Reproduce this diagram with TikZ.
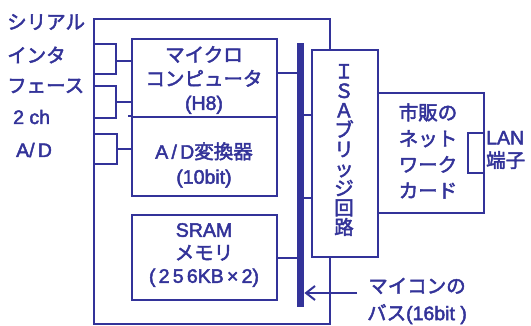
\documentclass[tikz,border=0pt]{standalone}
\usepackage{fontspec}
\setmainfont{Liberation Sans}
\newfontfamily\jp{Noto Sans CJK JP}
\newcommand\strokedtext{\special{pdf:literal direct 2 Tr 0.45 w}}
\usetikzlibrary{arrows.meta}
\definecolor{dblue}{RGB}{51,51,153}
\begin{document}
\begin{tikzpicture}[x=1pt,y=-1pt,
  box/.style={draw=dblue, line width=2.2pt, inner sep=0pt, anchor=north west, fill=white},
  wire/.style={draw=dblue, line width=2.2pt},
  lbl/.style={text=dblue, inner sep=0pt, align=center, font=\fontsize{19.5}{24}\selectfont\strokedtext}]
\useasboundingbox (0,0) rectangle (531,325);
\fill[white] (0,0) rectangle (531,325);
% outer board
\node[box, minimum width=236pt, minimum height=305pt] (outer) at (93,18) {};
% serial / AD connectors
\node[box, minimum width=22pt, minimum height=30pt] (s1) at (93,43) {};
\node[box, minimum width=22pt, minimum height=32pt] (s2) at (93,85) {};
\node[box, minimum width=23pt, minimum height=30pt] (s3) at (93,133) {};
% inner blocks
\node[box, minimum width=145pt, minimum height=78pt] (mcu) at (131,38) {};
\node[box, minimum width=145pt, minimum height=79pt] (ad) at (131,116) {};
\node[box, minimum width=145pt, minimum height=85pt] (sram) at (131,214) {};
% bus
\node[fill=dblue, inner sep=0pt, anchor=north west, minimum width=7pt, minimum height=264pt] (bus) at (297,43) {};
% ISA bridge and NIC
\node[box, minimum width=106pt, minimum height=120pt] (nic) at (377,92) {};
\node[box, minimum width=66pt, minimum height=207pt] (isa) at (311,49) {};
\node[box, minimum width=16pt, minimum height=40pt] (lan) at (467,132) {};
% wires
\coordinate (w1) at ([yshift=-2pt]s1.east);
\coordinate (w2) at ([yshift=5pt]mcu.east);
\draw[wire] (w1) -- (mcu.west |- w1);
\draw[wire] (s2.east) -- (mcu.west |- s2.east);
\draw[wire] (s3.east) -- (ad.west |- s3.east);
\draw[wire] (ad.north west) -- ++(-3,0);
\draw[wire] (w2) -- (bus.west |- w2);
\draw[wire] (sram.east) -- (sram.east -| bus.west);
\coordinate (b1) at (bus.east |- 0,115);
\coordinate (b2) at (bus.east |- 0,198);
\draw[wire] (b1) -- (b1 -| isa.west);
\draw[wire] (b2) -- (b2 -| isa.west);
\coordinate (arrfrom) at (357,293);
\draw[wire, line width=2pt, -{Straight Barb[length=9pt,width=14pt]}] (arrfrom) -- (arrfrom -| bus.east);
% labels
\node[lbl, anchor=west] (t1) at (7,22) {\jp シリアル};
\node[lbl, anchor=west] (t2) at (7,55) {\jp インタ};
\node[lbl, anchor=west] (t3) at (7,86) {\jp フェース};
\node[lbl, anchor=west] (t4) at (13,117) {2 ch};
\node[lbl, anchor=west] (t5) at (16,150) {A/\,D};
\node[lbl] (tmcu) at (204,80) {{\jp マイクロ}\\{\jp コンピュータ}\\(H8)};
\node[lbl, font=\fontsize{19.5}{25}\selectfont\strokedtext] (tad) at (204,165) {A\,/\,D{\jp 変換器}\\(10bit)};
\node[lbl, font=\fontsize{19.5}{23}\selectfont\strokedtext] (tsram) at (204,255) {SRAM\\{\jp メモリ}\\(\,2\,5\,6KB\,×\,2)};
\node[lbl, font=\fontsize{19.5}{19.5}\selectfont\jp\strokedtext] (tisa) at (344,150) {Ｉ\\Ｓ\\Ａ\\ブ\\リ\\ッ\\ジ\\回\\路};
\node[lbl, font=\fontsize{19.5}{26}\selectfont\jp\strokedtext] (tnic) at (428,151) {市販の\\ネット\\ワーク\\カード};
\node[lbl, align=left, font=\fontsize{19.5}{23}\selectfont\strokedtext, anchor=west] (tlan) at (486,150) {LAN\\{\jp 端子}};
\node[lbl, font=\fontsize{19.5}{27}\selectfont\strokedtext] (tbus) at (417,301) {{\jp マイコンの}\\{\jp バス}(16bit )};
\end{tikzpicture}
\end{document}
